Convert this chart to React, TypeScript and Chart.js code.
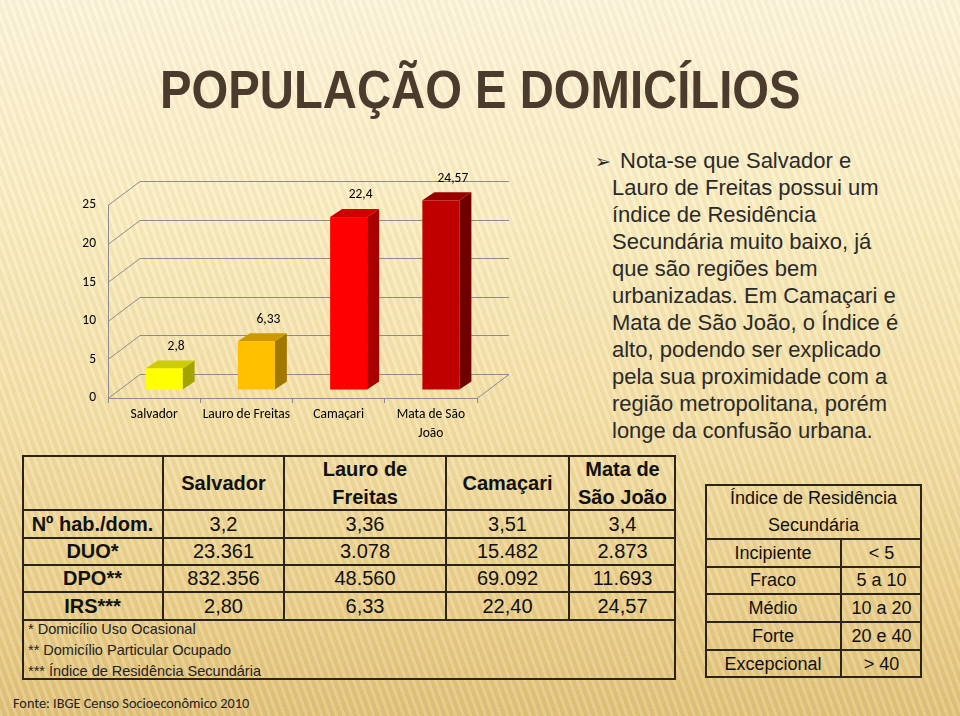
import React, { useEffect, useRef } from "react";
import { Chart, registerables } from "chart.js";

Chart.register(...registerables);

// ---------- data ----------
const categories: string[][] = [["Salvador"], ["Lauro de Freitas"], ["Camaçari"], ["Mata de São", "João"]];
const irsValues: number[] = [2.8, 6.33, 22.4, 24.57];
const yMin = 0;
const yMax = 25;
const yStep = 5;

const tableHeaders: string[][] = [["Salvador"], ["Lauro de", "Freitas"], ["Camaçari"], ["Mata de", "São João"]];
const rowLabels: string[] = ["Nº hab./dom.", "DUO*", "DPO**", "IRS***"];
const habPorDom: string[] = ["3,2", "3,36", "3,51", "3,4"];
const duo: string[] = ["23.361", "3.078", "15.482", "2.873"];
const dpo: string[] = ["832.356", "48.560", "69.092", "11.693"];
const irsText: string[] = ["2,80", "6,33", "22,40", "24,57"];
const footnotes: string[] = ["* Domicílio Uso Ocasional", "** Domicílio Particular Ocupado", "*** Índice de Residência Secundária"];

const indexTitle: string[] = ["Índice de Residência", "Secundária"];
const indexClasses: string[] = ["Incipiente", "Fraco", "Médio", "Forte", "Excepcional"];
const indexRanges: string[] = ["< 5", "5 a 10", "10 a 20", "20 e 40", "> 40"];

const noteLines: string[] = [
  "Nota-se que Salvador e",
  "Lauro de Freitas possui um",
  "índice de Residência",
  "Secundária muito baixo, já",
  "que são regiões bem",
  "urbanizadas. Em Camaçari e",
  "Mata de São João, o Índice é",
  "alto, podendo ser explicado",
  "pela sua proximidade com a",
  "região metropolitana, porém",
  "longe da confusão urbana.",
];

const titleText = "POPULAÇÃO E DOMICÍLIOS";
const sourceText = "Fonte: IBGE Censo Socioeconômico 2010";

// ---------- styles ----------
const frontColors = ["#ffff00", "#ffc000", "#ff0000", "#c00000"];
const topColors = ["#cccc00", "#cc9900", "#cc0000", "#990000"];
const sideColors = ["#a3a300", "#a07800", "#a80000", "#700000"];
const gridColor = "#8c8c8c";
const chartFont = "Carlito, Lato, 'Liberation Sans', sans-serif";

const fmt = (v: number) => String(v).replace(".", ",");

const box3d = {
  id: "box3d",
  beforeDatasetsDraw(chart: any) {
    const { ctx, chartArea, scales } = chart;
    const y = scales.y;
    const DX = 32, DY = 24;
    ctx.save();
    ctx.strokeStyle = gridColor;
    ctx.lineWidth = 1;
    const line = (a: number, b: number, c: number, d: number) => {
      ctx.beginPath();
      ctx.moveTo(a, b);
      ctx.lineTo(c, d);
      ctx.stroke();
    };
    y.ticks.forEach((t: any) => {
      const py = Math.round(y.getPixelForValue(t.value)) + 0.5;
      line(chartArea.left, py, chartArea.left + DX, py - DY);
      line(chartArea.left + DX, py - DY, chartArea.right + DX, py - DY);
    });
    const pb = Math.round(y.getPixelForValue(yMin)) + 0.5;
    line(chartArea.right, pb, chartArea.right + DX, pb - DY);
    ctx.restore();
  },
  afterDatasetsDraw(chart: any) {
    const { ctx } = chart;
    const meta = chart.getDatasetMeta(0);
    const OX = 10, OY = -8, BX = 12, BY = -8;
    ctx.save();
    meta.data.forEach((bar: any, i: number) => {
      const { x, y, base, width } = bar.getProps(["x", "y", "base", "width"], true);
      const l = x - width / 2 + OX;
      const r = x + width / 2 + OX;
      const t = y + OY;
      const b = base + OY;
      ctx.fillStyle = sideColors[i];
      ctx.beginPath();
      ctx.moveTo(r, t);
      ctx.lineTo(r + BX, t + BY);
      ctx.lineTo(r + BX, b + BY);
      ctx.lineTo(r, b);
      ctx.closePath();
      ctx.fill();
      ctx.fillStyle = topColors[i];
      ctx.beginPath();
      ctx.moveTo(l, t);
      ctx.lineTo(r, t);
      ctx.lineTo(r + BX, t + BY);
      ctx.lineTo(l + BX, t + BY);
      ctx.closePath();
      ctx.fill();
      ctx.fillStyle = frontColors[i];
      ctx.fillRect(l, t, r - l, b - t);
      ctx.fillStyle = "#000";
      ctx.font = `13.5px ${chartFont}`;
      ctx.textAlign = "center";
      ctx.textBaseline = "middle";
      ctx.fillText(fmt(irsValues[i]), (l + r) / 2 + 12, t - 22);
    });
    ctx.restore();
  },
};

function BarChart() {
  const ref = useRef<HTMLCanvasElement | null>(null);
  useEffect(() => {
    if (!ref.current) return;
    const chart = new Chart(ref.current, {
      type: "bar",
      data: {
        labels: categories as any,
        datasets: [
          {
            data: irsValues,
            backgroundColor: "rgba(0,0,0,0)",
            borderWidth: 0,
            barThickness: 37,
          },
        ],
      },
      options: {
        animation: false,
        responsive: false,
        maintainAspectRatio: false,
        devicePixelRatio: 1,
        events: [],
        layout: { padding: { top: 35, right: 43, left: 0, bottom: 0 } },
        plugins: { legend: { display: false }, tooltip: { enabled: false } },
        scales: {
          x: {
            grid: { drawOnChartArea: false, drawTicks: true, tickLength: 5, color: gridColor, offset: true },
            border: { color: gridColor },
            ticks: {
              color: "#000",
              font: { family: chartFont, size: 13.5, lineHeight: 1.4 },
              padding: 2,
              maxRotation: 0,
              autoSkip: false,
            },
            afterFit: (s: any) => {
              s.height = 52;
            },
          },
          y: {
            min: yMin,
            max: yMax,
            ticks: { stepSize: yStep, padding: 12, color: "#000", font: { family: chartFont, size: 13.5 } },
            grid: { drawOnChartArea: false, drawTicks: false },
            border: { color: gridColor },
            afterFit: (s: any) => {
              s.width = 48;
            },
          },
        },
      } as any,
      plugins: [box3d],
    });
    return () => chart.destroy();
  }, []);
  return (
    <canvas
      ref={ref}
      width={460}
      height={280}
      style={{ position: "absolute", left: 60, top: 170, width: 460, height: 280 }}
    />
  );
}

const bodyFont = "'Liberation Sans', Arial, sans-serif";
const lineCol = "#2b2418";

export default function App() {
  useEffect(() => {
    document.body.style.margin = "0";
  }, []);

  const colX = [22, 163, 284, 446, 569, 676];
  const rowY = [455, 510, 538, 565, 592, 620, 680];
  const dataRows = [habPorDom, duo, dpo, irsText];

  const cell = (x0: number, x1: number, y0: number, y1: number, content: React.ReactNode, extra: any = {}) => (
    <div
      style={{
        position: "absolute",
        left: x0,
        top: y0,
        width: x1 - x0,
        height: y1 - y0,
        display: "flex",
        flexDirection: "column",
        alignItems: "center",
        justifyContent: "center",
        textAlign: "center",
        whiteSpace: "nowrap",
        ...extra,
      }}
    >
      {content}
    </div>
  );

  const ixX = [705, 841, 922];
  const ixY = [484, 539, 567, 594, 622, 650, 678];

  return (
    <div
      style={{
        position: "absolute",
        left: 0,
        top: 0,
        width: 960,
        height: 716,
        overflow: "hidden",
        fontFamily: bodyFont,
        background:
          "repeating-linear-gradient(70deg, rgba(255,255,255,0.16) 0px, rgba(255,255,255,0.16) 3px, rgba(160,120,40,0.06) 3px, rgba(160,120,40,0.06) 7px), linear-gradient(180deg, #fdf5dc 0%, #faedc0 30%, #f3dea4 60%, #e9cd88 85%, #e1c179 100%)",
      }}
    >
      {/* title */}
      <div
        style={{
          position: "absolute",
          left: 160,
          top: 62,
          fontSize: 54,
          lineHeight: "54px",
          fontWeight: "bold",
          color: "#4a3b2c",
          whiteSpace: "nowrap",
          transform: "scaleX(0.875)",
          transformOrigin: "left top",
        }}
      >
        {titleText}
      </div>

      <BarChart />

      {/* note text */}
      <div
        style={{
          position: "absolute",
          left: 595,
          top: 148,
          fontFamily: "'DejaVu Sans', sans-serif",
          fontSize: 19,
          fontWeight: "bold",
          lineHeight: "26px",
          color: "#2a2a2a",
        }}
      >
        ➢
      </div>
      <div
        style={{
          position: "absolute",
          left: 612,
          top: 147,
          fontSize: 22,
          lineHeight: "27px",
          color: "#2a2a2a",
          whiteSpace: "nowrap",
        }}
      >
        {noteLines.map((l, i) => (
          <div key={i} style={{ paddingLeft: i === 0 ? 8 : 0 }}>
            {l}
          </div>
        ))}
      </div>

      {/* main table */}
      <div style={{ position: "absolute", left: 0, top: 0, color: "#111", fontSize: 20 }}>
        <div
          style={{
            position: "absolute",
            left: colX[0],
            top: rowY[0],
            width: colX[5] - colX[0],
            height: rowY[6] - rowY[0],
            border: `2px solid ${lineCol}`,
            boxSizing: "border-box",
          }}
        />
        {rowY.slice(1, 6).map((y, i) => (
          <div key={"h" + i} style={{ position: "absolute", left: colX[0], top: y - 1, width: colX[5] - colX[0], height: 2, background: lineCol }} />
        ))}
        {colX.slice(1, 5).map((x, i) => (
          <div key={"v" + i} style={{ position: "absolute", left: x - 1, top: rowY[0], width: 2, height: rowY[5] - rowY[0], background: lineCol }} />
        ))}
        {tableHeaders.map((h, i) => (
          <React.Fragment key={"th" + i}>
            {cell(colX[i + 1], colX[i + 2], rowY[0], rowY[1], h.map((t, k) => <div key={k}>{t}</div>), {
              fontWeight: "bold",
              lineHeight: "28px",
            })}
          </React.Fragment>
        ))}
        {rowLabels.map((lab, r) => (
          <React.Fragment key={r}>
            {cell(colX[0], colX[1], rowY[r + 1], rowY[r + 2], lab, { fontWeight: "bold" })}
            {dataRows[r].map((v, c) => (
              <React.Fragment key={c}>{cell(colX[c + 1], colX[c + 2], rowY[r + 1], rowY[r + 2], v)}</React.Fragment>
            ))}
          </React.Fragment>
        ))}
        <div
          style={{
            position: "absolute",
            left: colX[0] + 6,
            top: rowY[5] - 1,
            fontSize: 14.5,
            lineHeight: "21px",
            color: "#222",
            whiteSpace: "nowrap",
          }}
        >
          {footnotes.map((f, i) => (
            <div key={i}>{f}</div>
          ))}
        </div>
      </div>

      {/* index table */}
      <div style={{ position: "absolute", left: 0, top: 0, color: "#111", fontSize: 18 }}>
        <div
          style={{
            position: "absolute",
            left: ixX[0],
            top: ixY[0],
            width: ixX[2] - ixX[0],
            height: ixY[6] - ixY[0],
            border: `2px solid ${lineCol}`,
            boxSizing: "border-box",
          }}
        />
        {ixY.slice(1, 6).map((y, i) => (
          <div key={"ih" + i} style={{ position: "absolute", left: ixX[0], top: y - 1, width: ixX[2] - ixX[0], height: 2, background: lineCol }} />
        ))}
        <div style={{ position: "absolute", left: ixX[1] - 1, top: ixY[1], width: 2, height: ixY[6] - ixY[1], background: lineCol }} />
        {cell(ixX[0], ixX[2], ixY[0], ixY[1], indexTitle.map((t, k) => <div key={k}>{t}</div>), { lineHeight: "27px" })}
        {indexClasses.map((c, r) => (
          <React.Fragment key={r}>
            {cell(ixX[0], ixX[1], ixY[r + 1], ixY[r + 2], c)}
            {cell(ixX[1], ixX[2], ixY[r + 1], ixY[r + 2], indexRanges[r])}
          </React.Fragment>
        ))}
      </div>

      {/* source */}
      <div
        style={{
          position: "absolute",
          left: 13,
          top: 694,
          fontSize: 14.3,
          lineHeight: "18px",
          fontFamily: chartFont,
          color: "#222",
          whiteSpace: "nowrap",
        }}
      >
        {sourceText}
      </div>
    </div>
  );
}
